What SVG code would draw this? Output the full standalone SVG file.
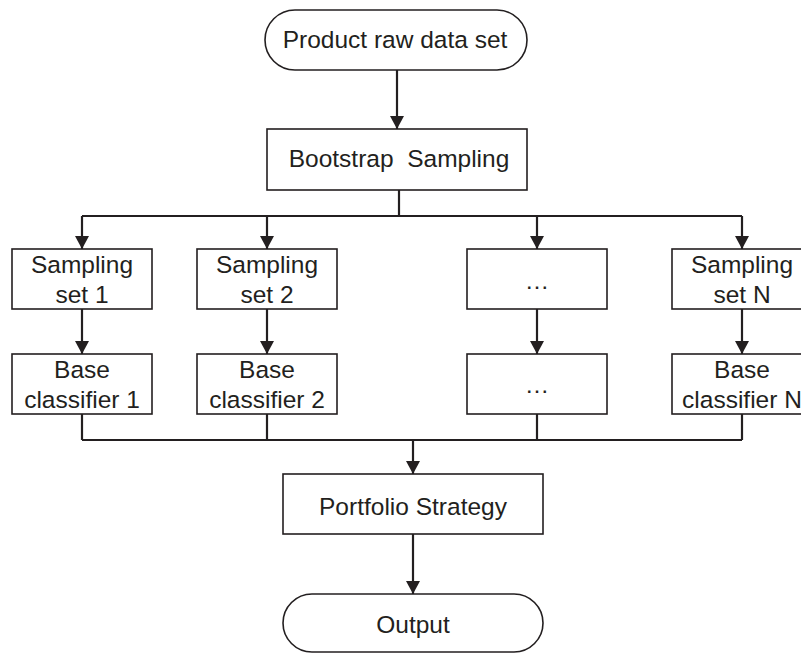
<svg xmlns="http://www.w3.org/2000/svg" width="801" height="654" viewBox="0 0 801 654">
<style>
.box{fill:#fff;stroke:#231f20;stroke-width:1.6}
.t{font-family:"Liberation Sans",Arial,sans-serif;font-size:24.5px;fill:#231f20;text-anchor:middle}
.c{fill:none;stroke:#231f20;stroke-width:2.2}
</style>
<defs>
<marker id="ah" markerUnits="userSpaceOnUse" markerWidth="14" markerHeight="14" refX="13" refY="7" orient="auto">
<path d="M0,0 L13,7 L0,14 z" fill="#231f20"/>
</marker>
</defs>
<rect width="801" height="654" fill="#fff"/>
<g id="connectors">
<path class="c" d="M397,70 V129" marker-end="url(#ah)"/>
<path class="c" d="M399,190 V216"/>
<path class="c" d="M82,216 H742"/>
<path class="c" d="M82,216 V249" marker-end="url(#ah)"/>
<path class="c" d="M267,216 V249" marker-end="url(#ah)"/>
<path class="c" d="M537,216 V249" marker-end="url(#ah)"/>
<path class="c" d="M742,216 V249" marker-end="url(#ah)"/>
<path class="c" d="M82,309 V354" marker-end="url(#ah)"/>
<path class="c" d="M267,309 V354" marker-end="url(#ah)"/>
<path class="c" d="M537,309 V354" marker-end="url(#ah)"/>
<path class="c" d="M742,309 V354" marker-end="url(#ah)"/>
<path class="c" d="M82,414 V440 M267,414 V440 M537,414 V440 M742,414 V440"/>
<path class="c" d="M82,440 H742"/>
<path class="c" d="M413,440 V474" marker-end="url(#ah)"/>
<path class="c" d="M413,534 V594" marker-end="url(#ah)"/>
</g>
<g id="start">
<rect class="box" x="265" y="10" width="262" height="60" rx="30" ry="30"/>
<text class="t" x="395" y="48">Product raw data set</text>
</g>
<g id="bootstrap">
<rect class="box" x="267" y="129" width="260" height="61"/>
<text class="t" x="399" y="167" xml:space="preserve">Bootstrap  Sampling</text>
</g>
<g id="sampling1">
<rect class="box" x="12" y="249" width="140" height="60"/>
<text class="t" x="82" y="273">Sampling</text>
<text class="t" x="82" y="303">set 1</text>
</g>
<g id="sampling2">
<rect class="box" x="197" y="249" width="140" height="60"/>
<text class="t" x="267" y="273">Sampling</text>
<text class="t" x="267" y="303">set 2</text>
</g>
<g id="samplingDots">
<rect class="box" x="467" y="249" width="140" height="60"/>
<text class="t" x="537" y="289">…</text>
</g>
<g id="samplingN">
<rect class="box" x="672" y="249" width="140" height="60"/>
<text class="t" x="742" y="273">Sampling</text>
<text class="t" x="742" y="303">set N</text>
</g>
<g id="classifier1">
<rect class="box" x="12" y="354" width="140" height="60"/>
<text class="t" x="82" y="378">Base</text>
<text class="t" x="82" y="408">classifier 1</text>
</g>
<g id="classifier2">
<rect class="box" x="197" y="354" width="140" height="60"/>
<text class="t" x="267" y="378">Base</text>
<text class="t" x="267" y="408">classifier 2</text>
</g>
<g id="classifierDots">
<rect class="box" x="467" y="354" width="140" height="60"/>
<text class="t" x="537" y="393">…</text>
</g>
<g id="classifierN">
<rect class="box" x="672" y="354" width="140" height="60"/>
<text class="t" x="742" y="378">Base</text>
<text class="t" x="742" y="408">classifier N</text>
</g>
<g id="portfolio">
<rect class="box" x="283" y="474" width="260" height="60"/>
<text class="t" x="413" y="515">Portfolio Strategy</text>
</g>
<g id="output">
<rect class="box" x="283" y="594" width="260" height="58" rx="29" ry="29"/>
<text class="t" x="413" y="633">Output</text>
</g>
</svg>
